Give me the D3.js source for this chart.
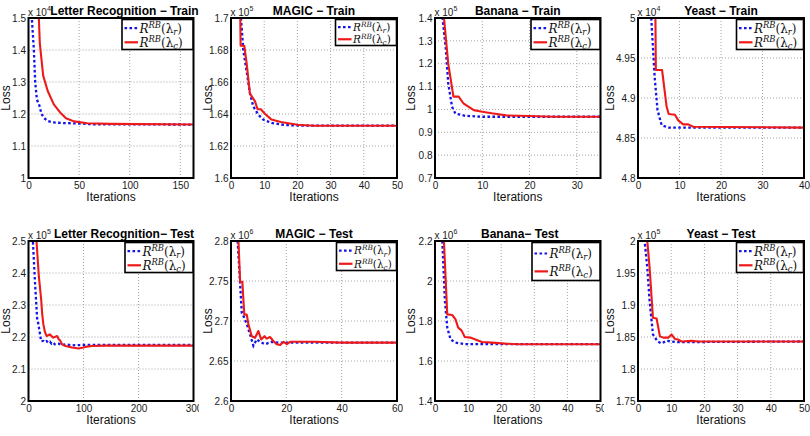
<!DOCTYPE html>
<html><head><meta charset="utf-8">
<script src="https://cdn.jsdelivr.net/npm/d3@7"></script>
<style>body{margin:0;background:#fff}</style>
</head><body>
<svg id="c" width="810" height="436"></svg>
<script>
// ---------------- DATA ----------------
const titles = ["Letter Recognition − Train","MAGIC − Train","Banana − Train","Yeast − Train",
                "Letter Recognition− Test","MAGIC − Test","Banana− Test","Yeast − Test"];
const xMax = [163, 50, 35, 40, 300, 60, 50, 50];
const yRanges = [[1,1.5],[1.6,1.7],[0.7,1.4],[4.8,5],[2,2.5],[2.6,2.8],[1.4,2.2],[1.75,2]];
const exponents = ["4","5","5","4","5","6","6","5"];
const xTickValues = [[0,50,100,150],[0,10,20,30,40,50],[0,10,20,30],[0,10,20,30,40],
                     [0,100,200,300],[0,20,40,60],[0,10,20,30,40,50],[0,10,20,30,40,50]];
const yTickValues = [[1,1.1,1.2,1.3,1.4,1.5],[1.6,1.62,1.64,1.66,1.68,1.7],
                     [0.7,0.8,0.9,1,1.1,1.2,1.3,1.4],[4.8,4.85,4.9,4.95,5],
                     [2,2.1,2.2,2.3,2.4,2.5],[2.6,2.65,2.7,2.75,2.8],
                     [1.4,1.6,1.8,2,2.2],[1.75,1.8,1.85,1.9,1.95,2]];
const seriesSubscripts = ["r","c"];
const xLabel = "Iterations";
const yLabel = "Loss";

// loss curves: [iteration, loss] (lambda_r = dotted blue, lambda_c = solid red)
const letterTrainR = [[2,1.9],[3.3,1.5],[5.3,1.40],[6.6,1.30],[8.3,1.245],[10.6,1.228],[12.9,1.2],[15.5,1.187],[19,1.178],[24,1.174],[32,1.172],[42,1.171],[52,1.170],[62,1.168],[163,1.167]];
const letterTrainC = [[9,1.8],[10.2,1.5],[11.2,1.42],[14.5,1.32],[19,1.272],[25,1.23],[32,1.202],[37,1.187],[45,1.177],[58,1.171],[81,1.169],[163,1.167]];
const magicTrainR = [[2,1.9],[3,1.7],[3.7,1.680],[4.7,1.6667],[5.7,1.653],[6.7,1.6448],[8.2,1.6396],[9.7,1.6365],[12.2,1.6344],[16.2,1.6331],[22,1.6327],[50,1.6327]];
const magicTrainC = [[2.6,1.9],[2.8,1.7],[2.9,1.6827],[4,1.6827],[4.7,1.672],[5.7,1.6527],[7.2,1.648],[8,1.643],[9,1.643],[10.2,1.6402],[12.2,1.6365],[15,1.635],[20,1.6333],[25,1.6327],[50,1.6327]];
const bananaTrainR = [[1.2,1.6],[1.6,1.4],[2.3,1.26],[2.8,1.114],[3.6,1.012],[4.3,0.982],[6.4,0.972],[10,0.968],[35,0.968]];
const bananaTrainC = [[1.5,1.6],[1.9,1.4],[2.8,1.2],[3.9,1.056],[5,1.056],[6,1.027],[8.2,0.997],[10,0.99],[12,0.983],[15,0.974],[20,0.971],[25,0.968],[35,0.968]];
const yeastTrainR = [[2.5,5.3],[3.2,5.0],[4,4.927],[4.7,4.885],[5.7,4.866],[7.3,4.863],[40,4.863]];
const yeastTrainC = [[4.1,5.2],[4.2,5.0],[4.3,4.935],[5.8,4.935],[6.9,4.889],[7.4,4.880],[8.9,4.879],[9.7,4.872],[10.9,4.867],[12.1,4.867],[13.3,4.864],[40,4.863]];
const letterTestR = [[6,2.7],[8,2.5],[12,2.365],[15.6,2.26],[18,2.24],[21,2.208],[23,2.187],[27,2.188],[30,2.184],[33,2.187],[36,2.182],[39,2.185],[42,2.179],[45,2.182],[48,2.177],[55,2.179],[61,2.175],[67,2.177],[79,2.174],[97,2.175],[300,2.175]];
const letterTestC = [[12,2.7],[14.5,2.5],[18.8,2.39],[23,2.318],[25,2.27],[27,2.24],[30,2.215],[33,2.203],[39,2.208],[45,2.198],[52,2.203],[55,2.193],[58,2.188],[61,2.177],[67,2.172],[79,2.167],[91,2.164],[100,2.167],[106,2.170],[115,2.172],[140,2.173],[300,2.173]];
const magicTestR = [[2,2.9],[2.4,2.8],[3.3,2.746],[3.9,2.71],[4.8,2.704],[5.7,2.696],[6.9,2.683],[8.1,2.669],[9.3,2.677],[10.5,2.674],[12.3,2.671],[14.7,2.674],[17.1,2.673],[60,2.673]];
const magicTestC = [[2.2,2.9],[2.7,2.8],[3.3,2.749],[4.1,2.749],[4.8,2.708],[5.7,2.708],[6.3,2.696],[7.5,2.681],[8.7,2.679],[9.9,2.6875],[10.9,2.677],[12.1,2.681],[12.9,2.678],[14.1,2.680],[15.3,2.675],[16.5,2.671],[17.8,2.670],[19,2.674],[20.2,2.671],[21.4,2.674],[30,2.674],[40,2.673],[60,2.673]];
const bananaTestR = [[1.8,2.5],[2.2,2.2],[3,1.9],[3.7,1.767],[4.7,1.708],[6.2,1.692],[9.2,1.684],[50,1.684]];
const bananaTestC = [[2.2,2.5],[2.7,2.2],[3.7,1.833],[5.2,1.83],[6.2,1.808],[7,1.767],[8,1.753],[9,1.72],[10.7,1.717],[12.2,1.708],[14.2,1.695],[17.2,1.692],[21.3,1.687],[25,1.684],[50,1.684]];
const yeastTestR = [[1.7,2.05],[2,2.0],[2.8,1.958],[3.5,1.906],[4.5,1.854],[5.9,1.843],[7.1,1.840],[8.6,1.844],[10.1,1.843],[12.1,1.842],[50,1.843]];
const yeastTestC = [[2.5,2.05],[2.8,2.0],[3.5,1.958],[4.5,1.880],[5.6,1.879],[6.6,1.851],[7.6,1.849],[9.1,1.849],[10.1,1.854],[11.1,1.847],[12.1,1.846],[13.1,1.843],[16.2,1.844],[18.2,1.843],[50,1.843]];

const seriesR = [letterTrainR, magicTrainR, bananaTrainR, yeastTrainR, letterTestR, magicTestR, bananaTestR, yeastTestR];
const seriesC = [letterTrainC, magicTrainC, bananaTrainC, yeastTrainC, letterTestC, magicTestC, bananaTestC, yeastTestC];

// ---------------- LAYOUT / STYLE ----------------
const COL_X = [[28.5,193.5],[231,397],[435,600.5],[638,804]];
const ROW_Y = [[18,178],[241,401]];
const COL_CLIP = [[0,199],[202,403],[404,604],[604,810]];
const TITLE_DX = [13.5,0,0,0,13,0,2,0];
const LEGEND = [
  {w:71,h:30,fs:12},{w:61,h:26,fs:10.5},{w:69,h:30,fs:12},{w:67,h:30,fs:12},
  {w:68,h:30,fs:12},{w:60,h:28,fs:10.5},{w:68,h:38,fs:12},{w:67,h:30,fs:12}];
const BLUE = "#1414e6", RED = "#ee1a1a";
const SANS = "'Liberation Sans', Arial, Helvetica, sans-serif";
const SERIF = "'DejaVu Serif', 'Liberation Serif', serif";

const svg = d3.select("#c");
const defs = svg.append("defs");
COL_CLIP.forEach((c,i)=>{
  defs.append("clipPath").attr("id","col"+i).append("rect")
    .attr("x",c[0]).attr("y",0).attr("width",c[1]-c[0]).attr("height",436);
});
const fmt = v => String(+v.toFixed(4));

for (let i = 0; i < 8; i++) {
  const col = i % 4, row = Math.floor(i / 4);
  const [x0, x1] = COL_X[col], [y0, y1] = ROW_Y[row];
  const g = svg.append("g").attr("clip-path", `url(#col${col})`);
  const x = d3.scaleLinear().domain([0, xMax[i]]).range([x0, x1]);
  const y = d3.scaleLinear().domain(yRanges[i]).range([y1, y0]);

  // grid
  const grid = g.append("g").attr("stroke","#9a9a9a").attr("stroke-width",0.9).attr("stroke-dasharray","1,2");
  xTickValues[i].filter(t => t > 0 && t < xMax[i]).forEach(t => {
    grid.append("line").attr("x1",x(t)).attr("x2",x(t)).attr("y1",y0).attr("y2",y1);
  });
  yTickValues[i].filter(t => t > yRanges[i][0] && t < yRanges[i][1]).forEach(t => {
    grid.append("line").attr("x1",x0).attr("x2",x1).attr("y1",y(t)).attr("y2",y(t));
  });

  // lines
  defs.append("clipPath").attr("id","pc"+i).append("rect")
    .attr("x",x0).attr("y",y0).attr("width",x1-x0).attr("height",y1-y0);
  const line = d3.line().x(d => x(d[0])).y(d => y(d[1]));
  const lg = g.append("g").attr("clip-path", `url(#pc${i})`).attr("fill","none");
  lg.append("path").attr("d", line(seriesR[i])).attr("stroke", BLUE).attr("stroke-width", 2.3)
    .attr("stroke-dasharray","2.6,2.4");
  lg.append("path").attr("d", line(seriesC[i])).attr("stroke", RED).attr("stroke-width", 2.1)
    .attr("stroke-linejoin","round");

  // axes
  const ax = g.append("g").attr("transform",`translate(0,${y1})`)
    .call(d3.axisBottom(x).tickValues(xTickValues[i]).tickSize(0).tickPadding(4).tickFormat(fmt));
  ax.select(".domain").remove();
  ax.attr("font-family", SANS).attr("font-size", 10);
  ax.selectAll("text").attr("fill","#1a1a1a");
  const ay = g.append("g").attr("transform",`translate(${x0},0)`)
    .call(d3.axisLeft(y).tickValues(yTickValues[i]).tickSize(0).tickPadding(2.5).tickFormat(fmt));
  ay.select(".domain").remove();
  ay.attr("font-family", SANS).attr("font-size", 10);
  ay.selectAll("text").attr("fill","#1a1a1a");
  let maxW = 0;
  ay.selectAll("text").each(function(){ maxW = Math.max(maxW, this.getComputedTextLength()); });

  // box
  g.append("rect").attr("x",x0).attr("y",y0).attr("width",x1-x0).attr("height",y1-y0)
    .attr("fill","none").attr("stroke","#000").attr("stroke-width",2);

  // labels
  g.append("text").attr("x",(x0+x1)/2).attr("y",y1+22.5).attr("text-anchor","middle")
    .attr("font-family",SANS).attr("font-size",12).attr("fill","#111").text(xLabel);
  const lx = Math.max(x0 - 2.5 - maxW - 4, COL_CLIP[col][0] + 9.5);
  g.append("text").attr("transform",`translate(${lx},${(y0+y1)/2}) rotate(-90)`)
    .attr("text-anchor","middle").attr("font-family",SANS).attr("font-size",12).attr("fill","#111").text(yLabel);

  // exponent
  const ex = g.append("text").attr("x",x0-0.5).attr("y",y0-2.5).attr("font-family",SANS)
    .attr("font-size",10).attr("fill","#1a1a1a");
  ex.append("tspan").text("x 10");
  ex.append("tspan").attr("font-size",7).attr("dy",-5).text(exponents[i]);

  // title
  g.append("text").attr("x",(x0+x1)/2 + TITLE_DX[i]).attr("y",y0-3.5).attr("text-anchor","middle")
    .attr("font-family",SANS).attr("font-size",12).attr("font-weight","bold").attr("fill","#000")
    .text(titles[i]);

  // legend
  const L = LEGEND[i];
  const bx = x1 - L.w - 0.5, by = y0 + 1.5;
  const leg = g.append("g");
  leg.append("rect").attr("x",bx).attr("y",by).attr("width",L.w).attr("height",L.h)
    .attr("fill","#fff").attr("stroke","#000").attr("stroke-width",1.6);
  const rowsY = [by + L.h*0.29, by + L.h*0.76];
  [0,1].forEach(k => {
    const ry = rowsY[k];
    leg.append("line").attr("x1",bx+2.5).attr("x2",bx+16).attr("y1",ry).attr("y2",ry)
      .attr("stroke", k===0?BLUE:RED).attr("stroke-width",2.2)
      .attr("stroke-dasharray", k===0?"2.6,2.4":null);
    const t = leg.append("text").attr("x",bx+17.5).attr("y",ry + L.fs*0.36)
      .attr("font-family",SERIF).attr("font-size",L.fs).attr("fill","#111");
    const sub = L.fs*0.7;
    t.append("tspan").attr("font-style","italic").text("R");
    t.append("tspan").attr("font-style","italic").attr("font-size",sub).attr("dy",-L.fs*0.38).text("RB");
    t.append("tspan").attr("dy",L.fs*0.38).text("(λ");
    t.append("tspan").attr("font-style","italic").attr("font-size",sub).attr("dy",L.fs*0.22).text(seriesSubscripts[k]);
    t.append("tspan").attr("dy",-L.fs*0.22).text(")");
  });
}
</script>
</body></html>
